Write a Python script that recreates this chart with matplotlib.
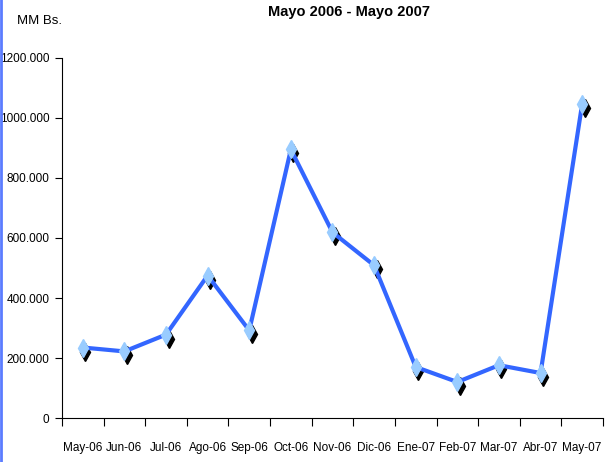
import matplotlib
matplotlib.use("Agg")
import matplotlib.pyplot as plt
import matplotlib.transforms as mtransforms
from matplotlib.lines import Line2D

# monthly values (MM Bs.)
months = ["May-06", "Jun-06", "Jul-06", "Ago-06", "Sep-06", "Oct-06", "Nov-06",
          "Dic-06", "Ene-07", "Feb-07", "Mar-07", "Abr-07", "May-07"]
values = [235, 222, 278, 475, 292, 895, 619, 509, 170, 120, 176, 150, 1047]
yticks = [0, 200, 400, 600, 800, 1000, 1200]
ylabels = ["0", "200.000", "400.000", "600.000", "800.000", "1000.000", "1200.000"]

plt.rcParams['font.family'] = ['Liberation Sans', 'DejaVu Sans']

fig = plt.figure(figsize=(6.1, 4.62), dpi=100)
ax = fig.add_axes([0.1016, 0.0952, 0.8869, 0.7793])

x = list(range(len(months)))

# shadow of the markers, shifted down-right
shadow = mtransforms.offset_copy(ax.transData, fig=fig, x=2.5, y=-4, units='dots')
ax.plot(x, values, linestyle='none', marker='d', markersize=9,
        color='black', transform=shadow, zorder=2, clip_on=False)
ax.plot(x, values, color='#3366ff', linewidth=3, zorder=3, clip_on=False)
ax.plot(x, values, linestyle='none', marker='d', markersize=9,
        markerfacecolor='#99ccff', markeredgecolor='#99ccff', zorder=4, clip_on=False)

ax.set_xlim(-0.5, len(months) - 0.5)
ax.set_ylim(0, 1200)
ax.set_yticks(yticks)
ax.set_yticklabels(ylabels, fontsize=8.5)
ax.set_xticks(x)
ax.set_xticklabels(months, fontsize=8.5)
ax.tick_params(axis='x', length=0, pad=17)
ax.set_xticks([i - 0.5 for i in range(len(months) + 1)], minor=True)
ax.tick_params(axis='x', which='minor', length=6, direction='out', width=0.8)
ax.tick_params(axis='y', length=5, direction='out', width=0.8, pad=4)

for s in ['top', 'right']:
    ax.spines[s].set_visible(False)
ax.spines['left'].set_linewidth(0.8)
ax.spines['bottom'].set_linewidth(0.8)

fig.text(0.572, 0.965, "Mayo 2006 - Mayo 2007", ha='center', va='baseline',
         fontsize=10.5, fontweight='bold')
fig.text(0.028, 0.955, "MM Bs.", ha='left', va='center', fontsize=9.5)

# blue border on the left edge
fig.add_artist(Line2D([0.002, 0.002], [0, 1], color='#5b7cff', linewidth=2,
                      transform=fig.transFigure))

fig.savefig("out.png", dpi=100)
